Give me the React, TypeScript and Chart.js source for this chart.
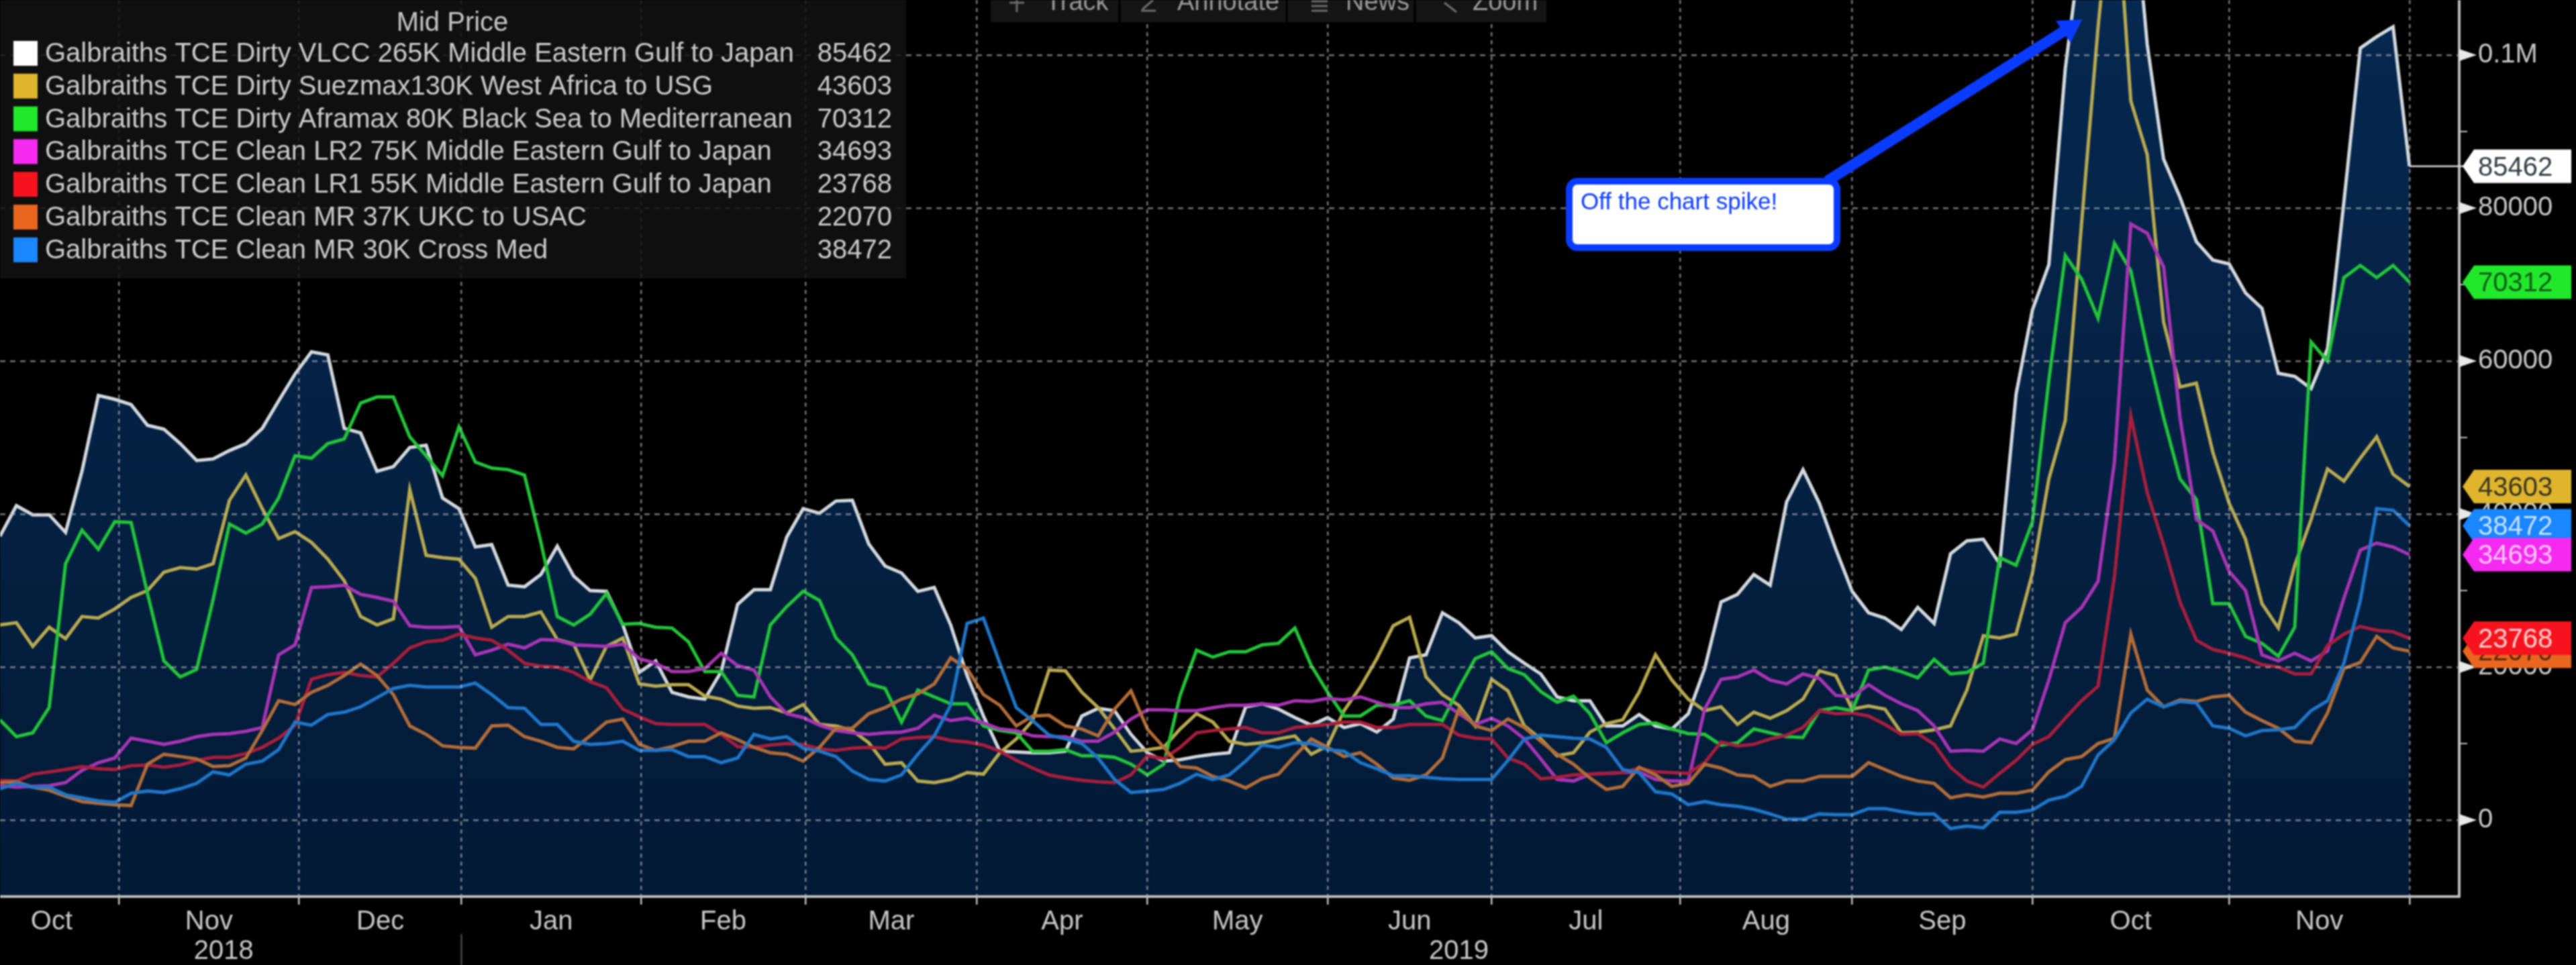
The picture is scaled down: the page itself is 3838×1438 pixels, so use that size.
import { useEffect, useRef } from "react";
import { Chart, registerables, Plugin } from "chart.js";

Chart.register(...registerables);

// values read every second trading session, Oct 2018 - Nov 2019
const vlcc = [
  37100, 41100, 39900, 39900, 37600, 45600, 55500, 55000, 54300, 51600, 51100, 49200, 47000, 47200, 48300, 49200, 51200, 54800, 58300, 61200,
  60800, 51200, 50600, 45600, 46200, 48700, 49000, 42100, 40700, 35700, 36000, 30700, 30500, 32100, 35800, 31900, 30000, 29900, 25500, 19300, 20800,
  16700, 16100, 15800, 19400, 28200, 30100, 30100, 37000, 40700, 40100, 41700, 41800, 36100, 33200, 32300, 29900, 30400, 25500, 18900, 13600,
  9000, 8900, 8800, 8800, 9000, 13600, 14600, 14300, 11200, 8800, 7700, 7900, 8300, 8600, 8800, 14800, 15200, 14500, 13400, 12400, 13400,
  12100, 12600, 11500, 13200, 21200, 21600, 27100, 25800, 23800, 24100, 22000, 20500, 19100, 16100, 15600, 15600, 12300, 12300, 13800, 12300,
  11900, 13900, 19800, 28500, 29500, 32100, 30700, 41600, 45800, 41400, 35400, 29900, 27100, 26400, 24900,
  27800, 25700, 34800, 36500, 36700, 33500, 55700, 66700, 72600, 98200, 115000, 130000, 135000, 125000, 101400, 86400, 81400, 75600, 73200, 72700,
  68900, 66900, 58400, 58000, 56400, 61600, 80800, 100900, 102400, 103700, 85462,
];
const suezmax = [
  25500, 25800, 22700, 25200, 23700, 26600, 26400, 27600, 29100, 30000, 32400, 33000, 32800, 33500, 41800, 45100, 40700, 36800, 37700, 36300,
  34100, 31300, 26600, 25500, 26300, 43200, 34600, 34300, 34100, 31600, 25200, 26600, 26600, 27200, 23600, 23000, 18300, 22700, 23800, 17800, 17500,
  17700, 17700, 16200, 15800, 14900, 14600, 14700, 14000, 15100, 12500, 12300, 11700, 10100, 7300, 7500, 5100, 4900, 5300, 6200, 6000,
  8800, 10600, 13000, 19600, 19500, 16700, 14700, 11900, 9000, 9200, 9500, 11900, 13900, 12800, 10300, 9900, 10100, 10600, 11000, 8600, 9700,
  14300, 17400, 21100, 25400, 26500, 18700, 16400, 15000, 12300, 18400, 16900, 12300, 10600, 8400, 8800, 11500, 12600, 13100, 16700, 21600,
  18300, 15800, 14300, 14800, 12500, 14100, 13300, 14300, 15800, 19500, 18900, 14500, 14900, 14500, 11400,
  11500, 11800, 12300, 17000, 24100, 23800, 24300, 32300, 44600, 52200, 78100, 103600, 125000, 94000, 87000, 65100, 56600, 57100, 48100, 41400,
  36700, 28300, 25100, 33300, 39300, 45900, 44300, 47300, 50100, 45200, 43603,
];
const aframax = [
  13100, 10900, 11400, 14700, 33500, 37900, 35400, 39000, 38900, 29600, 20800, 18700, 19700, 28800, 38700, 37500, 38700, 42100, 47600, 47300,
  49200, 49800, 54500, 55300, 55300, 50100, 47600, 45000, 51400, 46800, 46000, 45800, 45100, 36300, 26600, 25500, 26900, 29600, 25600, 25700, 25200,
  25100, 23300, 19400, 19400, 16300, 16100, 25500, 27900, 29900, 28700, 23800, 21600, 17800, 17200, 12800, 17000, 16100, 15200, 15200, 12300,
  11700, 11400, 9000, 9000, 9200, 8400, 8400, 8200, 7300, 5900, 7300, 16300, 22200, 21300, 22000, 22000, 22900, 23100, 25100, 20200, 16700,
  13600, 13600, 15000, 15000, 15600, 13600, 13000, 17200, 21100, 22000, 19800, 19000, 16800, 15400, 16200, 13900, 10100, 11400, 12500, 12700,
  11900, 11300, 11200, 9800, 10100, 11900, 11400, 10900, 10800, 14300, 14700, 14300, 19600, 20000, 19400,
  18600, 21000, 19100, 19300, 20500, 34300, 33300, 39000, 57500, 73800, 70700, 65600, 75400, 71800, 61600, 52600, 44600, 41900, 28300, 28300,
  24000, 23100, 21400, 25200, 62500, 60000, 70900, 72500, 70900, 72500, 70312,
];
const lr2 = [
  4500, 4300, 4400, 4500, 4900, 6500, 7500, 8100, 10700, 10300, 9900, 10300, 10900, 11200, 11300, 11600, 12100, 21600, 22900, 30400,
  30500, 30700, 29500, 29100, 28600, 25400, 25200, 25200, 25300, 21600, 22200, 23000, 22500, 23600, 23500, 22900, 22800, 22700, 23000, 21100, 20500,
  19400, 19400, 19800, 21800, 20200, 19600, 16100, 13900, 13400, 12400, 11700, 11400, 11200, 11400, 11500, 12000, 13700, 13000, 13300, 12700,
  11900, 11700, 11000, 10900, 10900, 10300, 10300, 11500, 13200, 14400, 14400, 14300, 14300, 14700, 15000, 15000, 15200, 15000, 15600, 15500, 15900,
  15700, 16100, 15400, 14700, 14700, 15200, 15400, 13900, 12500, 13300, 12300, 10600, 8000, 5300, 5100, 6000, 6100, 6200, 6300, 5300,
  5100, 5100, 14500, 18400, 18700, 19600, 18300, 17800, 19100, 18500, 16300, 16100, 17700, 16300, 15200,
  14300, 12300, 9000, 9100, 9000, 10600, 10000, 11800, 18300, 25800, 27800, 31200, 46800, 77900, 76700, 72300, 52600, 39300, 37800, 32500,
  30000, 21600, 20800, 21800, 20800, 22100, 29000, 35300, 36200, 35700, 34693,
];
const lr1 = [
  5200, 5100, 6000, 6300, 6600, 7000, 6700, 6600, 7100, 7200, 6900, 7200, 7800, 8200, 8200, 8700, 9500, 10700, 12400, 18400,
  19000, 19300, 18900, 18700, 20500, 22500, 23300, 23500, 24300, 23800, 23500, 22200, 20500, 20100, 20000, 19300, 18100, 17300, 14500, 13500, 12600,
  12500, 12500, 12500, 11200, 9600, 9500, 9800, 10000, 9900, 9300, 9100, 9400, 9500, 9400, 10600, 10800, 10900, 10400, 10200, 9800,
  9000, 7800, 6800, 5900, 5500, 5200, 5000, 4900, 5900, 8400, 8000, 9500, 11400, 11700, 11900, 12100, 11400, 11400, 12100, 12300, 12500,
  12800, 12800, 12100, 12100, 12500, 12500, 12500, 11100, 10700, 10600, 8100, 7300, 5400, 5600, 5900, 6000, 6100, 6200, 6800, 6300,
  6200, 6100, 7500, 10200, 9700, 9900, 10600, 11100, 12100, 14300, 13900, 14000, 13600, 12500, 11200,
  11300, 9900, 6900, 5100, 4300, 6100, 7800, 9900, 10900, 13300, 15600, 17500, 31800, 52800, 42800, 36000, 28500, 23500, 22300, 21800,
  21200, 20300, 20000, 19100, 19100, 22800, 24300, 25300, 24800, 24600, 23768,
];
const mr37 = [
  4900, 5000, 4300, 3900, 3100, 2400, 2200, 2000, 1900, 7300, 8600, 8300, 8000, 7000, 7100, 8100, 11700, 15600, 15100, 16700,
  17600, 18900, 20400, 18900, 16400, 12300, 11200, 9700, 9500, 9400, 12300, 12400, 10900, 10300, 9500, 9300, 11000, 12800, 13200, 9900, 9100,
  9600, 10300, 10300, 11400, 10500, 9500, 8800, 8600, 7700, 9500, 12000, 12000, 13900, 14700, 15800, 16500, 17800, 21200, 19800, 16400,
  15000, 12300, 13600, 13700, 12300, 11900, 11000, 14500, 16900, 11900, 9500, 7000, 6800, 5700, 5100, 4200, 5400, 6000, 8400, 10600, 9500,
  8300, 8800, 7300, 5500, 5200, 5900, 8100, 14500, 12300, 11700, 13200, 12100, 10300, 8600, 7300, 5500, 4000, 4400, 6900, 5900,
  4400, 4800, 7300, 6800, 5900, 5700, 4400, 5100, 5100, 5700, 5700, 5700, 7500, 6600, 5700,
  5100, 4800, 2900, 3300, 3000, 3500, 3500, 3900, 6300, 7900, 8300, 10000, 10700, 24300, 17000, 14800, 15700, 15500, 16100, 16300,
  14100, 13000, 12000, 10300, 10100, 14000, 19800, 20600, 24000, 22500, 22070,
];
const mr30 = [
  4100, 4800, 4300, 4300, 3300, 2900, 2500, 2300, 3500, 3800, 3600, 4100, 4800, 6300, 5900, 7300, 7700, 9200, 12800, 12400,
  13800, 14100, 14800, 16000, 17200, 17600, 17400, 17400, 17400, 17900, 16400, 14700, 14600, 12500, 12500, 10300, 9900, 10000, 10300, 9100, 9100,
  9200, 8300, 8300, 7500, 8100, 11200, 10600, 10900, 9400, 9000, 8300, 6400, 5300, 5100, 5900, 8600, 11000, 15000, 25700, 26400,
  20500, 14700, 13000, 11100, 10600, 10000, 8100, 5300, 3600, 3800, 4000, 4800, 6000, 5300, 5900, 7700, 9800, 9500, 10100, 10000, 9200,
  9000, 7500, 6700, 5800, 5800, 5600, 5400, 5300, 5300, 5300, 7800, 10600, 11100, 10900, 10700, 10600, 9500, 6600, 6200, 3700,
  3400, 2000, 2400, 2000, 1800, 1400, 800, 100, 100, 800, 700, 700, 1500, 1500, 1100,
  800, 800, -1100, -800, -1000, 1000, 1000, 1300, 2600, 3100, 4400, 8500, 10500, 14000, 15800, 14800, 15500, 15300, 12300, 12000,
  11000, 11700, 11800, 12100, 14300, 15600, 20500, 28700, 40700, 40500, 38472,
];

const seriesValues = [vlcc, suezmax, aframax, lr2, lr1, mr37, mr30];
const seriesNames = [
  "Galbraiths TCE Dirty VLCC 265K Middle Eastern Gulf to Japan",
  "Galbraiths TCE Dirty Suezmax130K West Africa to USG",
  "Galbraiths TCE Dirty Aframax 80K Black Sea to Mediterranean",
  "Galbraiths TCE Clean LR2 75K Middle Eastern Gulf to Japan",
  "Galbraiths TCE Clean LR1 55K Middle Eastern Gulf to Japan",
  "Galbraiths TCE Clean MR 37K UKC to USAC",
  "Galbraiths TCE Clean MR 30K Cross Med",
];
const lineColors = ["#d3d9de", "#b9aa50", "#23c43a", "#a834b4", "#a81e3c", "#b26c38", "#1f76c9"];
const flagColors = ["#ffffff", "#dfb52e", "#22e82c", "#f42af0", "#f5141e", "#e8661f", "#1a86ff"];
const flagTextColors = ["#333b44", "#3a3420", "#125c18", "#f7c6f5", "#ffd0d0", "#5a2a10", "#c6e2ff"];
const flagDrawOrder = [5, 6, 1, 2, 0, 3, 4];

// sessions between months; first one is off the left edge of the crop
const monthEdges = [-1.9, 14.5, 36.5, 56.3, 78.2, 98.3, 119.2, 140, 162, 182, 205, 226, 248, 272, 294];
const monthNames = ["Oct", "Nov", "Dec", "Jan", "Feb", "Mar", "Apr", "May", "Jun", "Jul", "Aug", "Sep", "Oct", "Nov"];
const yearLabels = [
  { text: "2018", session: 27.3 },
  { text: "2019", session: 178 },
];
const yearSplit = 56.3;
const toolbarItems = [
  { text: "Track", x: 1558 },
  { text: "Annotate", x: 1754 },
  { text: "News", x: 2005 },
  { text: "Zoom", x: 2194 },
];

const sessions = vlcc.map((_, i) => i * 2);
const monthCenters = monthNames.map((_, i) => (monthEdges[i] + monthEdges[i + 1]) / 2);
const FONT = '"Liberation Sans"';
const GRID = "rgba(190,190,190,0.62)";

const overlay: Plugin<"line"> = {
  id: "overlay",
  afterDraw(chart) {
    const { ctx, scales } = chart;
    const x = scales.x;
    const y = scales.y;
    const right = chart.chartArea.right;
    ctx.save();
    ctx.textBaseline = "alphabetic";

    // y axis markers
    y.ticks.forEach((t) => {
      const py = y.getPixelForValue(t.value);
      if (t.value % 20000 === 0) {
        ctx.fillStyle = "#e8e8e8";
        ctx.beginPath();
        ctx.moveTo(right, py - 9);
        ctx.lineTo(right + 26, py);
        ctx.lineTo(right, py + 9);
        ctx.fill();
      } else {
        ctx.strokeStyle = "#c0c0c0";
        ctx.lineWidth = 2;
        ctx.beginPath();
        ctx.moveTo(right, py);
        ctx.lineTo(right + 12, py);
        ctx.stroke();
      }
    });

    // years under the months
    ctx.font = `40px ${FONT}`;
    ctx.fillStyle = "#c8c8c8";
    ctx.textAlign = "center";
    yearLabels.forEach((l) => ctx.fillText(l.text, x.getPixelForValue(l.session), 1429));
    const splitX = x.getPixelForValue(yearSplit);
    ctx.strokeStyle = "#5a5a5a";
    ctx.lineWidth = 2;
    ctx.beginPath();
    ctx.moveTo(splitX, 1392);
    ctx.lineTo(splitX, 1438);
    ctx.stroke();

    // last price connector and flags
    const lastVlcc = vlcc[vlcc.length - 1];
    ctx.strokeStyle = "#d8d8d8";
    ctx.lineWidth = 2.5;
    ctx.beginPath();
    ctx.moveTo(x.getPixelForValue(sessions[sessions.length - 1]), y.getPixelForValue(lastVlcc));
    ctx.lineTo(right + 6, y.getPixelForValue(lastVlcc));
    ctx.stroke();
    ctx.textAlign = "left";
    flagDrawOrder.forEach((s) => {
      const values = seriesValues[s];
      const last = values[values.length - 1];
      const py = y.getPixelForValue(last);
      ctx.fillStyle = flagColors[s];
      ctx.beginPath();
      ctx.moveTo(3669, py);
      ctx.lineTo(3686, py - 25);
      ctx.lineTo(3831, py - 25);
      ctx.lineTo(3831, py + 25);
      ctx.lineTo(3686, py + 25);
      ctx.closePath();
      ctx.fill();
      ctx.fillStyle = flagTextColors[s];
      ctx.font = `40px ${FONT}`;
      ctx.fillText(String(last), 3692, py + 14);
    });

    // legend panel
    ctx.fillStyle = "rgba(18,18,18,0.86)";
    ctx.fillRect(0, 0, 1350, 415);
    ctx.font = `40px ${FONT}`;
    ctx.fillStyle = "#c6c6c6";
    ctx.textAlign = "center";
    ctx.fillText("Mid Price", 674, 46);
    seriesNames.forEach((name, s) => {
      const rowY = 79 + s * 48.8;
      ctx.fillStyle = flagColors[s];
      ctx.fillRect(20, rowY - 18, 36, 37);
      ctx.fillStyle = "#cccccc";
      ctx.textAlign = "left";
      ctx.fillText(name, 67, rowY + 13, 1140);
      ctx.textAlign = "right";
      const values = seriesValues[s];
      ctx.fillText(String(values[values.length - 1]), 1329, rowY + 13);
    });

    // toolbar cut by the top edge
    ctx.fillStyle = "#141414";
    ctx.fillRect(1476, 0, 828, 33);
    ctx.strokeStyle = "#000000";
    ctx.lineWidth = 3;
    [1668, 1917, 2108].forEach((sx) => {
      ctx.beginPath();
      ctx.moveTo(sx, 0);
      ctx.lineTo(sx, 33);
      ctx.stroke();
    });
    ctx.font = `38px ${FONT}`;
    ctx.fillStyle = "#9a9a9a";
    ctx.textAlign = "left";
    toolbarItems.forEach((t) => ctx.fillText(t.text, t.x, 15));
    ctx.strokeStyle = "#6c6c6c";
    ctx.lineWidth = 3;
    ctx.beginPath();
    ctx.moveTo(1515, 0);
    ctx.lineTo(1515, 18);
    ctx.moveTo(1504, 4);
    ctx.lineTo(1526, 4);
    ctx.moveTo(1700, 16);
    ctx.lineTo(1722, 16);
    ctx.moveTo(1702, 14);
    ctx.lineTo(1718, 0);
    ctx.moveTo(1954, 2);
    ctx.lineTo(1978, 2);
    ctx.moveTo(1954, 9);
    ctx.lineTo(1978, 9);
    ctx.moveTo(1954, 16);
    ctx.lineTo(1978, 16);
    ctx.moveTo(2152, 4);
    ctx.lineTo(2170, 18);
    ctx.stroke();

    // annotation
    ctx.fillStyle = "#0a3cff";
    ctx.strokeStyle = "#0a3cff";
    ctx.lineWidth = 16;
    ctx.beginPath();
    ctx.moveTo(2722, 270);
    ctx.lineTo(3085, 40);
    ctx.stroke();
    ctx.beginPath();
    ctx.moveTo(3102, 29);
    ctx.lineTo(3063, 31);
    ctx.lineTo(3085, 64);
    ctx.closePath();
    ctx.fill();
    ctx.fillStyle = "#ffffff";
    ctx.lineWidth = 10;
    ctx.beginPath();
    ctx.roundRect(2338, 270, 399, 99, 12);
    ctx.fill();
    ctx.stroke();
    ctx.fillStyle = "#0a3cff";
    ctx.font = `35px ${FONT}`;
    ctx.fillText("Off the chart spike!", 2355, 312, 302);
    ctx.restore();
  },
};

export default function App() {
  const canvasRef = useRef<HTMLCanvasElement | null>(null);

  useEffect(() => {
    if (!canvasRef.current) return;
    document.body.style.margin = "0";
    document.body.style.background = "#000";

    const chart = new Chart(canvasRef.current, {
      type: "line",
      data: {
        labels: sessions,
        datasets: seriesValues.map((values, s) => ({
          label: seriesNames[s],
          data: values,
          borderColor: lineColors[s],
          borderWidth: 5,
          pointRadius: 0,
          tension: 0,
          order: 7 - s,
          fill: s === 0 ? "start" : false,
          backgroundColor: (c: any) => {
            const area = c.chart.chartArea;
            if (!area) return "#04203f";
            const g = c.chart.ctx.createLinearGradient(0, area.top, 0, area.bottom);
            g.addColorStop(0, "#06284f");
            g.addColorStop(1, "#031a36");
            return g;
          },
        })),
      },
      options: {
        responsive: false,
        devicePixelRatio: 1,
        animation: false,
        layout: { padding: 0 },
        plugins: { legend: { display: false }, tooltip: { enabled: false } },
        scales: {
          x: {
            type: "linear",
            min: 0,
            max: 300.07,
            afterFit: (scale: any) => {
              scale.height = 102;
              scale.paddingLeft = 0;
              scale.paddingRight = 0;
            },
            afterBuildTicks: (scale: any) => {
              const edges = monthEdges.filter((v) => v > 0);
              scale.ticks = [...edges, ...monthCenters].sort((a, b) => a - b).map((value) => ({ value }));
            },
            // border has to draw after the grid, the grid sets its position
            border: { display: true, color: "#bdbdbd", width: 4, dash: [6, 6], z: 2 },
            grid: {
              z: 1,
              lineWidth: 2.5,
              tickLength: 12,
              color: (c: any) => (monthEdges.includes(c.tick?.value) ? GRID : "transparent"),
              tickColor: (c: any) => (monthEdges.includes(c.tick?.value) ? "#c4c4c4" : "transparent"),
            },
            ticks: {
              autoSkip: false,
              maxRotation: 0,
              minRotation: 0,
              padding: 2,
              color: "#c8c8c8",
              font: { family: "Liberation Sans", size: 40 },
              callback: (value: any) => {
                const i = monthCenters.indexOf(value);
                return i >= 0 ? monthNames[i] : "";
              },
            },
          },
          y: {
            position: "right",
            min: -10000,
            max: 107193,
            afterFit: (scale: any) => {
              scale.width = 174;
              scale.paddingTop = 0;
              scale.paddingBottom = 0;
            },
            afterBuildTicks: (scale: any) => {
              scale.ticks = [0, 10000, 20000, 30000, 40000, 50000, 60000, 70000, 80000, 90000, 100000].map((value) => ({ value }));
            },
            border: { display: true, color: "#bdbdbd", width: 4, dash: [8, 7], z: 2 },
            grid: {
              z: 1,
              lineWidth: 2.5,
              tickLength: 28,
              tickColor: "transparent",
              color: (c: any) => (c.tick && c.tick.value % 20000 === 0 ? GRID : "transparent"),
            },
            ticks: {
              autoSkip: false,
              padding: 0,
              color: "#c8c8c8",
              font: { family: "Liberation Sans", size: 40 },
              callback: (value: any) => {
                if (value === 100000) return "0.1M";
                return value % 20000 === 0 ? String(value) : "";
              },
            },
          },
        },
      },
      plugins: [overlay],
    });

    return () => {
      chart.destroy();
    };
  }, []);

  return (
    <div style={{ position: "fixed", left: 0, top: 0, width: 3838, height: 1438, background: "#000" }}>
      <canvas ref={canvasRef} width={3838} height={1438} style={{ display: "block", filter: "blur(0.9px)" }} />
    </div>
  );
}
